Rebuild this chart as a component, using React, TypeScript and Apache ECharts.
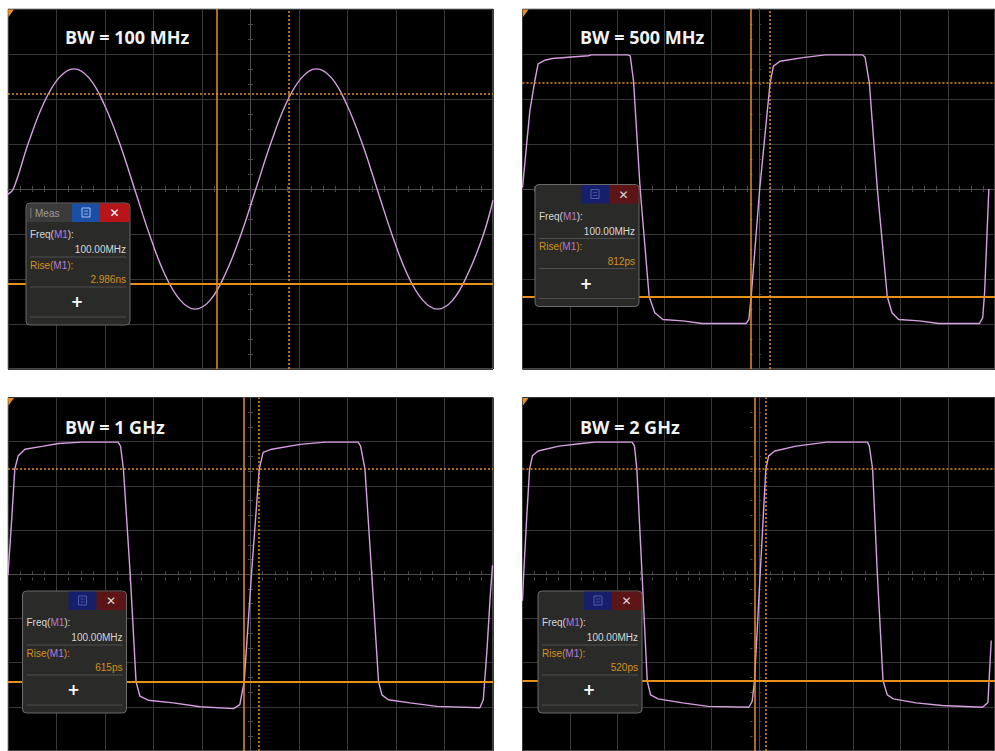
import React, { useEffect, useRef } from "react";
import * as echarts from "echarts";

// ---- data (x in divisions from screen centre, y in divisions from centre) ----
const titles = ["BW = 100 MHz", "BW = 500 MHz", "BW = 1 GHz", "BW = 2 GHz"];
const freqValues = ["100.00MHz", "100.00MHz", "100.00MHz", "100.00MHz"];
const riseValues = ["2.986ns", "812ps", "615ps", "520ps"];

const wave100MHz: [number, number][] = [
  [-5.0, -0.12], [-4.89, 0], [-4.58, 1.02], [-4.27, 1.89], [-3.95, 2.47], [-3.64, 2.67],
  [-3.33, 2.47], [-3.02, 1.89], [-2.7, 1.02], [-2.39, 0], [-2.08, -1.02], [-1.77, -1.89],
  [-1.45, -2.47], [-1.14, -2.67], [-0.83, -2.47], [-0.52, -1.89], [-0.2, -1.02], [0.11, 0],
  [0.42, 1.02], [0.73, 1.89], [1.05, 2.47], [1.36, 2.67], [1.67, 2.47], [1.98, 1.89],
  [2.3, 1.02], [2.61, 0], [2.92, -1.02], [3.23, -1.89], [3.55, -2.47], [3.86, -2.67],
  [4.17, -2.47], [4.48, -1.89], [4.8, -1.02], [5.0, -0.25],
];
const wave500MHz: [number, number][] = [
  [-5.0, 0.03], [-4.845, 1.73], [-4.74, 2.4], [-4.67, 2.78], [-4.53, 2.86], [-4.37, 2.9],
  [-3.61, 2.96], [-3.54, 2.98], [-2.78, 2.98], [-2.72, 2.96], [-2.65, 2.4], [-2.51, 0],
  [-2.32, -2.39], [-2.2, -2.75], [-2.03, -2.9], [-1.61, -2.93], [-1.2, -2.99], [-0.27, -2.99],
  [-0.21, -2.9], [-0.16, -2.39], [0.02, 0], [0.24, 2.36], [0.31, 2.73], [0.45, 2.84],
  [0.93, 2.92], [1.41, 2.98], [2.2, 2.98], [2.25, 2.93], [2.34, 2.36], [2.51, 0],
  [2.72, -2.39], [2.82, -2.75], [2.96, -2.9], [3.4, -2.93], [3.81, -2.99], [4.67, -2.99],
  [4.74, -2.86], [4.78, -2.3], [4.87, 0],
];
const wave1GHz: [number, number][] = [
  [-5.0, -0.02], [-4.92, 1.31], [-4.86, 2.38], [-4.79, 2.68], [-4.65, 2.83], [-4.27, 2.9],
  [-3.96, 2.96], [-3.48, 2.99], [-2.73, 2.99], [-2.68, 2.9], [-2.62, 2.38], [-2.48, 0],
  [-2.36, -2.43], [-2.28, -2.76], [-2.11, -2.85], [-1.59, -2.91], [-1.04, -3.0], [-0.35, -3.04],
  [-0.22, -2.95], [-0.13, -2.43], [0.02, 0], [0.18, 2.38], [0.26, 2.76], [0.44, 2.83],
  [1.02, 2.94], [1.54, 2.99], [2.22, 2.99], [2.27, 2.9], [2.36, 2.38], [2.5, 0],
  [2.64, -2.43], [2.71, -2.73], [2.84, -2.84], [3.29, -2.91], [3.84, -2.99], [4.73, -3.02],
  [4.8, -2.84], [4.88, -1.65], [4.94, -0.54], [4.99, 0.2],
];
const wave2GHz: [number, number][] = [
  [-5.0, -0.6], [-4.98, -0.1], [-4.91, 1.31], [-4.85, 2.38], [-4.79, 2.68], [-4.67, 2.79],
  [-4.23, 2.9], [-3.75, 2.96], [-3.47, 2.99], [-2.68, 2.99], [-2.63, 2.9], [-2.58, 2.38],
  [-2.47, 0], [-2.36, -2.41], [-2.29, -2.73], [-2.13, -2.82], [-1.61, -2.91], [-1.07, -2.99],
  [-0.21, -3.01], [-0.14, -2.88], [-0.09, -2.41], [0.03, 0], [0.15, 2.38], [0.21, 2.68],
  [0.34, 2.79], [0.79, 2.9], [1.44, 2.99], [2.3, 2.99], [2.34, 2.9], [2.41, 2.38],
  [2.51, 0], [2.63, -2.41], [2.72, -2.73], [2.85, -2.82], [3.33, -2.91], [3.88, -2.97],
  [4.74, -3.01], [4.85, -2.9], [4.92, -1.5],
];
const waves = [wave100MHz, wave500MHz, wave1GHz, wave2GHz];

const cursorSolidX = [-0.69, -0.16, -0.13, -0.09];
const cursorDotX = [0.79, 0.24, 0.18, 0.15];
const cursorSolidY = [-2.11, -2.39, -2.43, -2.41];
const cursorDotY = [2.11, 2.36, 2.38, 2.38];

// ---- layout ----
const PANELS = [
  { left: 8, top: 9, box: [26, 203], active: true, meas: true, title: [65, 37] },
  { left: 522.5, top: 9, box: [535, 184.5], active: false, meas: false, title: [580, 37] },
  { left: 8, top: 397.5, box: [22.5, 591], active: false, meas: false, title: [65, 427] },
  { left: 522.5, top: 397.5, box: [538, 591], active: false, meas: false, title: [580, 427] },
];
const PW = 485;
const PH = 360;

const WAVE = "#d79fe2";
const ORANGE = "#e8901c";
const TXT = "#d6d6d6";
const PURPLE = "#b47ad8";
const BOXORANGE = "#d4901e";
const GRIDC = "#383838";
const CENTERC = "#4c4c4c";
const FONT = "'Liberation Sans', Arial, sans-serif";
const FS = 10;

function makeBox(i: number) {
  const p = PANELS[i];
  const [bx, by] = p.box;
  const W = 104;
  const H = 122;
  const Z = 100;
  const children: any[] = [
    { type: "rect", z: Z, shape: { x: 0, y: 0, width: W, height: H, r: 4 }, style: { fill: "#2a2b29", stroke: "#6b6b6b", lineWidth: 1 } },
  ];
  if (p.meas) {
    children.push({ type: "rect", z: Z + 1, shape: { x: 1, y: 1, width: 45, height: 18, r: [3, 0, 0, 0] }, style: { fill: "#3b3b3b" } });
    children.push({ type: "rect", z: Z + 2, shape: { x: 4, y: 5, width: 1.5, height: 10 }, style: { fill: "#666" } });
    children.push({ type: "text", z: Z + 2, x: 9, y: 10.5, style: { text: "Meas", fill: "#9c9c9c", font: `${FS}px ${FONT}`, verticalAlign: "middle" } });
  }
  const iconC = p.active ? "#a9c0ee" : "#4c5bb0";
  children.push({ type: "rect", z: Z + 1, shape: { x: 46, y: 0.5, width: 28, height: 18.5 }, style: { fill: p.active ? "#1a4fa6" : "#16206a" } });
  children.push({ type: "rect", z: Z + 2, shape: { x: 56, y: 5, width: 8, height: 9 }, style: { fill: "none", stroke: iconC, lineWidth: 1 } });
  children.push({ type: "line", z: Z + 2, shape: { x1: 58, y1: 8, x2: 62, y2: 8 }, style: { stroke: iconC, lineWidth: 0.8 } });
  children.push({ type: "line", z: Z + 2, shape: { x1: 58, y1: 11, x2: 62, y2: 11 }, style: { stroke: iconC, lineWidth: 0.8 } });
  children.push({ type: "rect", z: Z + 1, shape: { x: 74, y: 0.5, width: 29.5, height: 18.5, r: [0, 4, 0, 0] }, style: { fill: p.active ? "#b8151b" : "#5c1416" } });
  children.push({ type: "text", z: Z + 2, x: 88.5, y: 10, style: { text: "✕", fill: p.active ? "#ffffff" : "#d8d8d8", font: `bold 12px 'DejaVu Sans', sans-serif`, align: "center", verticalAlign: "middle" } });
  children.push({
    type: "text", z: Z + 2, x: 4, y: 31.5,
    style: {
      text: "{a|Freq(}{m|M1}{a|):}", verticalAlign: "middle", font: `${FS}px ${FONT}`,
      rich: { a: { fill: TXT, font: `${FS}px ${FONT}` }, m: { fill: PURPLE, font: `${FS}px ${FONT}` } },
    },
  });
  children.push({ type: "text", z: Z + 2, x: 100, y: 46.5, style: { text: freqValues[i], fill: TXT, font: `${FS}px ${FONT}`, align: "right", verticalAlign: "middle" } });
  children.push({ type: "line", z: Z + 2, shape: { x1: 4, y1: 54, x2: 100, y2: 54 }, style: { stroke: "#4e4e4e", lineWidth: 1 } });
  children.push({
    type: "text", z: Z + 2, x: 4, y: 62,
    style: {
      text: "{o|Rise(}{m|M1}{o|):}", verticalAlign: "middle", font: `${FS}px ${FONT}`,
      rich: { o: { fill: BOXORANGE, font: `${FS}px ${FONT}` }, m: { fill: PURPLE, font: `${FS}px ${FONT}` } },
    },
  });
  children.push({ type: "text", z: Z + 2, x: 100, y: 76.5, style: { text: riseValues[i], fill: BOXORANGE, font: `${FS}px ${FONT}`, align: "right", verticalAlign: "middle" } });
  children.push({ type: "line", z: Z + 2, shape: { x1: 4, y1: 84, x2: 100, y2: 84 }, style: { stroke: "#4e4e4e", lineWidth: 1 } });
  children.push({ type: "text", z: Z + 2, x: 51, y: 99, style: { text: "+", fill: "#ffffff", font: `bold 15px 'DejaVu Sans', sans-serif`, align: "center", verticalAlign: "middle" } });
  children.push({ type: "line", z: Z + 2, shape: { x1: 4, y1: 114, x2: 100, y2: 114 }, style: { stroke: "#4e4e4e", lineWidth: 1 } });
  return { type: "group", x: bx, y: by, z: Z, children };
}

export default function App() {
  const ref = useRef<HTMLDivElement>(null);
  useEffect(() => {
    if (!ref.current) return;
    const chart = echarts.init(ref.current, undefined, { renderer: "svg" });
    const grid: any[] = [];
    const xAxis: any[] = [];
    const yAxis: any[] = [];
    const series: any[] = [];
    const graphic: any[] = [];
    PANELS.forEach((p, i) => {
      grid.push({ left: p.left, top: p.top, width: PW, height: PH, show: true, backgroundColor: "#000", borderColor: "#8c8c8c", borderWidth: 1 });
      const base = {
        gridIndex: i,
        type: "value",
        interval: 1,
        axisLabel: { show: false },
        axisTick: { show: false },
      };
      // main axes: grid lines + centre line with ticks on one side
      xAxis.push({
        ...base, min: -5, max: 5, position: "bottom",
        axisLine: { show: true, onZero: true, lineStyle: { color: CENTERC, width: 1 } },
        minorTick: { show: true, splitNumber: 4, length: 3, lineStyle: { color: CENTERC } },
        axisTick: { show: false, inside: true },
        splitLine: { show: true, lineStyle: { color: GRIDC, width: 1 } },
      });
      yAxis.push({
        ...base, min: -4, max: 4, position: "left",
        axisLine: { show: true, onZero: true, lineStyle: { color: CENTERC, width: 1 } },
        minorTick: { show: true, splitNumber: 3, length: 2.5, lineStyle: { color: CENTERC } },
        axisTick: { show: false, inside: true },
        splitLine: { show: true, lineStyle: { color: GRIDC, width: 1 } },
      });
      // companion axes moved onto the centre lines, giving ticks on the other side
      xAxis.push({
        ...base, min: -5, max: 5, position: "top", offset: -PH / 2,
        axisLine: { show: false, onZero: false },
        axisTick: { show: false, inside: true },
        minorTick: { show: true, splitNumber: 4, length: 3, lineStyle: { color: CENTERC } },
        splitLine: { show: false },
      });
      yAxis.push({
        ...base, min: -4, max: 4, position: "right", offset: -PW / 2,
        axisLine: { show: false, onZero: false },
        axisTick: { show: false, inside: true },
        minorTick: { show: true, splitNumber: 3, length: 2.5, lineStyle: { color: CENTERC } },
        splitLine: { show: false },
      });
      series.push({
        type: "line",
        xAxisIndex: i * 2,
        yAxisIndex: i * 2,
        data: waves[i],
        symbol: "none",
        smooth: i === 0 ? 0.4 : false,
        lineStyle: { color: WAVE, width: 1.4 },
        z: 3,
        markLine: {
          silent: true,
          symbol: "none",
          label: { show: false },
          animation: false,
          data: [
            { xAxis: cursorSolidX[i], lineStyle: { color: ORANGE, width: 1.5, type: "solid" } },
            { xAxis: cursorDotX[i], lineStyle: { color: ORANGE, width: 1.5, type: [2, 2] } },
            { yAxis: cursorSolidY[i], lineStyle: { color: ORANGE, width: 2, type: "solid" } },
            { yAxis: cursorDotY[i], lineStyle: { color: ORANGE, width: 1.5, type: [2, 2] } },
          ],
        },
      });
      graphic.push({
        type: "polygon", z: 90,
        shape: { points: [[p.left, p.top + 0.5], [p.left + 6, p.top + 0.5], [p.left + 0.5, p.top + 8]] },
        style: { fill: ORANGE },
      });
      graphic.push({
        type: "text", z: 110, x: p.title[0], y: p.title[1],
        style: { text: titles[i], fill: "#f2f2f2", font: "bold 18px 'Open Sans', sans-serif", verticalAlign: "middle" },
      });
      graphic.push(makeBox(i));
    });
    chart.setOption({ animation: false, backgroundColor: "#ffffff", grid, xAxis, yAxis, series, graphic });
    return () => chart.dispose();
  }, []);
  return <div ref={ref} style={{ position: "absolute", left: 0, top: 0, width: 995, height: 751, background: "#fff" }} />;
}
